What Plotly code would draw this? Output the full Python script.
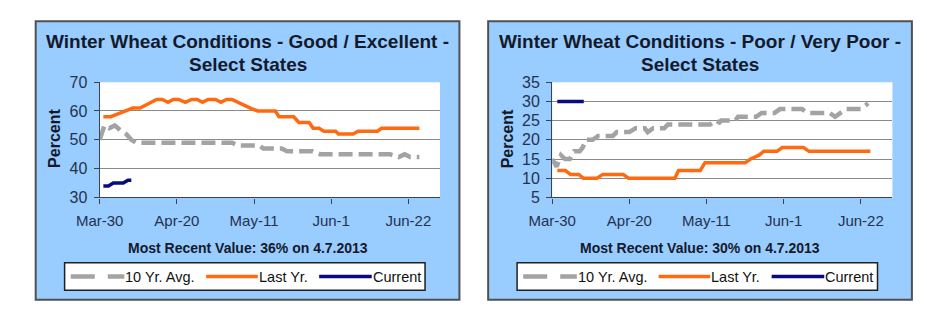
import plotly.graph_objects as go

# ---------------- data (day offset from Mar-30, value) ----------------
tick_days = [0, 21, 42, 63, 84]
tick_labels = ["Mar-30", "Apr-20", "May-11", "Jun-1", "Jun-22"]

# Good / Excellent
ge_avg_days = [0, 1.3, 2.6, 4.1, 5.9, 7.2, 8.6, 9.9, 36, 37.8, 43.5, 44.5, 49.5, 51, 58, 60, 79, 81.4, 83, 84.5, 87]
ge_avg_vals = [50, 55, 54, 55, 53, 52, 50, 49, 49, 48, 48, 47, 47, 46, 46, 45, 45, 44, 45, 44, 44]

ge_last_days = [1, 3, 5, 7, 9, 11, 12.5, 14, 15.5, 17, 18.6, 20, 21.5, 23.3, 25, 26.5, 28, 29.5, 31.5, 33,
                34.5, 36, 37.5, 39, 41, 43, 47.8, 48.8, 52.8, 54.2, 57, 58.1, 59.7, 61, 64.2, 65, 69, 70.3,
                75.6, 76.7, 87]
ge_last_vals = [58, 58, 59, 60, 61, 61, 62, 63, 64, 64, 63, 64, 64, 63, 64, 64, 63, 64, 64, 63,
                64, 64, 63, 62, 61, 60, 60, 58, 58, 56, 56, 54, 54, 53, 53, 52, 52, 53,
                53, 54, 54]

ge_cur_days = [1, 2.4, 3.7, 6.4, 7.7, 8.6]
ge_cur_vals = [34, 34, 35, 35, 36, 36]

# Poor / Very Poor
pvp_avg_days = [0, 1.2, 2.4, 3.5, 4.8, 6, 7.5, 8.3, 9.2, 11, 12.5, 16.5, 17.6, 21, 22.7, 25.2, 26, 27.5, 30.5,
                 31.5, 43, 44.4, 45.5, 46, 49.8, 50.6, 55.5, 57, 60.5, 62, 68, 69.5, 75.5, 77, 78.5, 80, 84, 86]
pvp_avg_vals = [15, 13, 16, 15, 15, 17, 17, 18, 20, 20, 21, 21, 22, 22, 23, 23, 22, 23, 23,
                24, 24, 25, 24.5, 25, 25, 26, 26, 27, 27, 28, 28, 27, 27, 26, 27, 28, 28, 29.5]

pvp_last_days = [1.4, 3.6, 5, 7.2, 8.5, 12.2, 13.8, 19.3, 20.8, 33.4, 34.4, 40.3, 41.6, 52.5, 54, 56.3, 57.6,
                 61.2, 62.6, 68.4, 69.9, 86.6]
pvp_last_vals = [12, 12, 11, 11, 10, 10, 11, 11, 10, 10, 12, 12, 14, 14, 15, 16, 17,
                 17, 18, 18, 17, 17]

pvp_cur_days = [1.4, 8.6]
pvp_cur_vals = [30, 30]

titles = [["Winter Wheat Conditions - Good / Excellent -", "Select States"],
          ["Winter Wheat Conditions - Poor / Very Poor -", "Select States"]]
recent = ["Most Recent Value: 36% on 4.7.2013", "Most Recent Value: 30% on 4.7.2013"]
legend_names = ["10 Yr. Avg.", "Last Yr.", "Current"]

# ---------------- styling ----------------
W, H = 927, 322
FONT = "Liberation Sans, Arial, sans-serif"
C_AVG = "#A3A3A3"
C_LAST = "#FF6A10"
C_CUR = "#0A0A80"
C_BG = "#99CCFF"
C_TXT = "#131A2C"
C_TICK = "#25324D"
DASH = "14px,6px"

def px(x):
    return x / W

def py(y):
    return 1 - y / H

OFF = 464.5  # horizontal offset of the right panel
panel = (12, 14, 447, 308)
plot_area = (77.7, 78.3, 427, 200)

fig = go.Figure()

series = [
    (ge_avg_days, ge_avg_vals, ge_last_days, ge_last_vals, ge_cur_days, ge_cur_vals),
    (pvp_avg_days, pvp_avg_vals, pvp_last_days, pvp_last_vals, pvp_cur_days, pvp_cur_vals),
]

for i, (ad, av, ld, lv, cd, cv) in enumerate(series):
    xa = "x" if i == 0 else "x2"
    ya = "y" if i == 0 else "y2"
    fig.add_trace(go.Scatter(x=ad, y=av, mode="lines", xaxis=xa, yaxis=ya, showlegend=False,
                             line=dict(color=C_AVG, width=4.5, dash=DASH), hoverinfo="skip"))
    fig.add_trace(go.Scatter(x=ld, y=lv, mode="lines", xaxis=xa, yaxis=ya, showlegend=False,
                             line=dict(color=C_LAST, width=3.5), hoverinfo="skip"))
    fig.add_trace(go.Scatter(x=cd, y=cv, mode="lines", xaxis=xa, yaxis=ya, showlegend=False,
                             line=dict(color=C_CUR, width=3.5), hoverinfo="skip"))

shapes = []
annotations = []
for i in range(2):
    o = OFF * i
    x0, y0, x1, y1 = panel
    shapes.append(dict(type="rect", xref="paper", yref="paper", layer="below",
                       x0=px(x0 + o), x1=px(x1 + o), y0=py(y1), y1=py(y0),
                       fillcolor=C_BG, line=dict(color="#505050", width=2)))
    a0, b0, a1, b1 = plot_area
    shapes.append(dict(type="rect", xref="paper", yref="paper", layer="below",
                       x0=px(a0 + o), x1=px(a1 + o), y0=py(b1), y1=py(b0),
                       fillcolor="white", line=dict(width=0)))
    cx = 229.5 + o
    annotations.append(dict(text="<b>%s</b>" % titles[i][0], x=px(cx), y=py(35), xref="paper", yref="paper",
                            showarrow=False, xanchor="center", yanchor="middle",
                            font=dict(family=FONT, size=19, color=C_TXT)))
    annotations.append(dict(text="<b>%s</b>" % titles[i][1], x=px(cx), y=py(59.5), xref="paper", yref="paper",
                            showarrow=False, xanchor="center", yanchor="middle",
                            font=dict(family=FONT, size=19, color=C_TXT)))
    annotations.append(dict(text="<b>Percent</b>", x=px(32 + o), y=py(138), xref="paper", yref="paper",
                            showarrow=False, xanchor="center", yanchor="middle", textangle=-90,
                            font=dict(family=FONT, size=16, color=C_TXT)))
    annotations.append(dict(text="<b>%s</b>" % recent[i], x=px(cx), y=py(253), xref="paper", yref="paper",
                            showarrow=False, xanchor="center", yanchor="middle",
                            font=dict(family=FONT, size=14, color=C_TXT)))
    # legend box
    shapes.append(dict(type="rect", xref="paper", yref="paper",
                       x0=px(41.7 + o), x1=px(411.7 + o), y0=py(298), y1=py(269),
                       fillcolor="white", line=dict(color="#202020", width=1.5)))
    ly = 283.5
    items = [(48, 103, C_AVG, "24px,13px", 4.5), (187, 240, C_LAST, "solid", 3.5), (303, 357, C_CUR, "solid", 3.5)]
    for (s0, s1, col, dsh, w), name in zip(items, legend_names):
        shapes.append(dict(type="line", xref="paper", yref="paper",
                           x0=px(s0 + o), x1=px(s1 + o), y0=py(ly), y1=py(ly),
                           line=dict(color=col, width=w, dash=dsh)))
        annotations.append(dict(text=name, x=px(s1 - 1 + o), y=py(ly), xref="paper", yref="paper",
                                showarrow=False, xanchor="left", yanchor="middle",
                                font=dict(family=FONT, size=14.5, color="#111111")))

xdom_l = [px(plot_area[0]), px(plot_area[2])]
xdom_r = [px(plot_area[0] + OFF), px(plot_area[2] + OFF)]
ydom = [py(plot_area[3]), py(plot_area[1])]

xcommon = dict(range=[0, 92.6], tickmode="array", tickvals=tick_days, ticktext=tick_labels,
               showgrid=False, zeroline=False, showline=True, linecolor="#3A4255", linewidth=1.2,
               ticks="outside", ticklen=5, tickcolor="#3A4255", tickwidth=1.2, ticklabelstandoff=4,
               tickfont=dict(family=FONT, size=15, color=C_TICK), fixedrange=True)
ycommon = dict(showgrid=True, gridcolor="#8A8A8A", gridwidth=1.3, zeroline=False,
               showline=True, linecolor="#3A4255", linewidth=1.2,
               ticks="outside", ticklen=5, tickcolor="#3A4255", tickwidth=1.2, ticklabelstandoff=3,
               tickfont=dict(family=FONT, size=16, color=C_TICK), fixedrange=True)

fig.update_layout(
    width=W, height=H, margin=dict(l=0, r=0, t=0, b=0),
    paper_bgcolor="white", plot_bgcolor="rgba(0,0,0,0)",
    showlegend=False,
    xaxis=dict(domain=xdom_l, anchor="y", **xcommon),
    yaxis=dict(domain=ydom, anchor="x", range=[30, 70], tickvals=[30, 40, 50, 60, 70], **ycommon),
    xaxis2=dict(domain=xdom_r, anchor="y2", **xcommon),
    yaxis2=dict(domain=ydom, anchor="x2", range=[5, 35], tickvals=[5, 10, 15, 20, 25, 30, 35], **ycommon),
    shapes=shapes, annotations=annotations,
)

fig.write_html("out.html")
